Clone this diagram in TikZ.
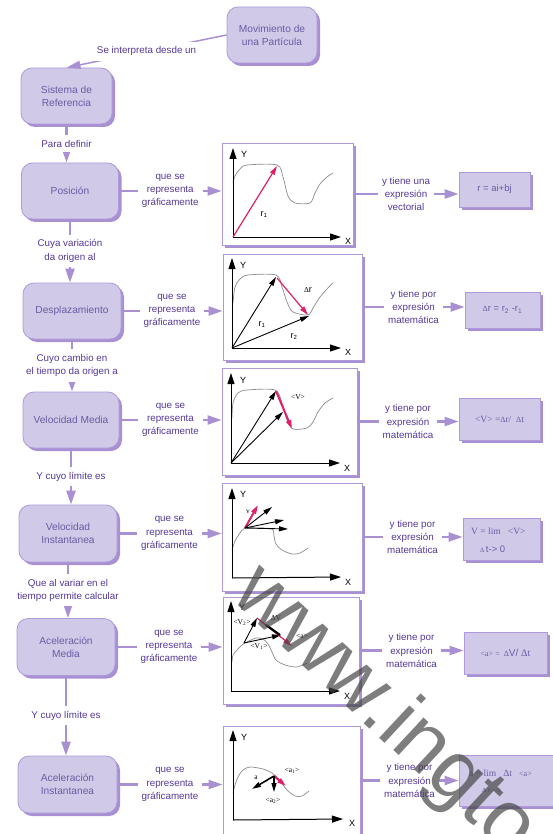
\documentclass[tikz,border=0pt]{standalone}
\usepackage{fontspec}
\setmainfont{Liberation Sans}
\newfontfamily\serf{Liberation Serif}
\usetikzlibrary{arrows.meta,shadows,calc}
\definecolor{bfill}{HTML}{D0CAE8}
\definecolor{bdraw}{HTML}{AE9ADA}
\definecolor{bshad}{HTML}{A890D2}
\definecolor{lcol}{HTML}{A890D2}
\definecolor{ltext}{HTML}{55389A}
\definecolor{btext}{HTML}{6A5CA2}
\definecolor{redv}{HTML}{E0206A}
\definecolor{curvec}{HTML}{8C8C8C}
\tikzset{
  shad/.style={drop shadow={shadow xshift=3pt, shadow yshift=-3pt, fill=bshad, opacity=1}},
  concept/.style={draw=bdraw, fill=bfill, line width=0.8pt, rounded corners=11pt, inner sep=0pt,
    text=btext, font=\fontsize{10.2}{13}\selectfont, align=center, shad},
  gbox/.style={draw=bdraw, fill=white, line width=0.9pt, inner sep=0pt, shad},
  fbox/.style={draw=bdraw, fill=bfill, line width=0.8pt, inner sep=0pt, shad},
  conn/.style={draw=lcol, line width=2.2pt},
  arr/.style={conn, -{Triangle[length=14pt,width=9pt]}},
  lbl/.style={fill=white, text=ltext, font=\fontsize{9.8}{13.3}\selectfont, align=center, inner xsep=4pt, inner ysep=5pt},
  ftext/.style={text=btext, inner sep=0pt, anchor=base west},
  axis/.style={black, line width=1pt, -{Triangle[length=11pt,width=7pt]}},
  vec/.style={black, line width=0.9pt, -{Triangle[length=9pt,width=5pt]}},
  rvec/.style={redv, line width=1.2pt, -{Triangle[length=9pt,width=5pt]}},
  curve/.style={curvec, line width=0.7pt},
  glbl/.style={inner sep=0pt, font=\fontsize{9}{10}\selectfont},
  slbl/.style={inner sep=0pt, font=\serf\fontsize{7.5}{8}\selectfont},
  wmark/.style={inner sep=0pt, anchor=base west, rotate=-43, text=black!72, opacity=0.7, font=\fontsize{84}{84}\selectfont}
}
\begin{document}
\begin{tikzpicture}[x=1pt,y=-1pt]
\useasboundingbox (0,0) rectangle (553,834);
% concept boxes
\node[concept, minimum width=90pt, minimum height=56pt] (mov) at (272,35) {Movimiento de\\una Partícula};
\node[concept, minimum width=91pt, minimum height=56pt] (sis) at (66.5,96) {Sistema de\\Referencia};
\node[concept, minimum width=97pt, minimum height=56pt] (pos) at (70,191) {Posición};
\node[concept, minimum width=98pt, minimum height=56pt] (des) at (72,311) {Desplazamiento};
\node[concept, minimum width=96pt, minimum height=56pt] (vm) at (71,420) {Velocidad Media};
\node[concept, minimum width=98pt, minimum height=57pt] (vi) at (68,533.5) {Velocidad\\Instantanea};
\node[concept, minimum width=98pt, minimum height=57pt] (am) at (66,647) {Aceleración\\Media};
\node[concept, minimum width=99pt, minimum height=57pt] (ai) at (67.5,784.5) {Aceleración\\Instantanea};
% graph boxes
\node[gbox, minimum width=131pt, minimum height=102pt] (g1) at (287.5,194) {};
\node[gbox, minimum width=139pt, minimum height=106pt] (g2) at (292.5,307) {};
\node[gbox, minimum width=135pt, minimum height=107pt] (g3) at (289.5,421.5) {};
\node[gbox, minimum width=140pt, minimum height=108pt] (g4) at (292,537) {};
\node[gbox, minimum width=136pt, minimum height=107pt] (g5) at (291,650.5) {};
\node[gbox, minimum width=137pt, minimum height=124pt] (g6) at (291.5,788) {};
% formula boxes
\node[fbox, minimum width=71pt, minimum height=35pt, text=btext, font=\fontsize{9.5}{11}\selectfont] (f1) at (494.5,189.5) {r = ai+bj};
\node[fbox, minimum width=75pt, minimum height=36pt, text=btext, font=\fontsize{9.5}{11}\selectfont] (f2) at (502.5,310) {{\serf\fontsize{8}{9}\selectfont Δ}r = r\textsubscript{2} -r\textsubscript{1}};
\node[fbox, minimum width=81pt, minimum height=42pt, text=btext, font=\serf\fontsize{9.5}{11}\selectfont] (f3) at (499.5,419) {<V> ={\fontsize{8}{9}\selectfont Δ}r/\ \ {\fontsize{8}{9}\selectfont Δ}t};
\node[fbox, minimum width=77pt, minimum height=42pt] (f4) at (501.5,539) {};
\node[fbox, minimum width=83pt, minimum height=42pt, text=btext, font=\fontsize{10}{11}\selectfont] (f5) at (505.5,653) {{\serf\fontsize{8}{9}\selectfont <a> =\ \ Δ}V/ {\serf Δt}};
\node[fbox, minimum width=106pt, minimum height=51pt] (f6) at (512,780.5) {};
\node[ftext, font=\serf\fontsize{9.5}{11}\selectfont] (f4a) at (471,534) {V = lim\ \ \ <V>};
\node[ftext, font=\fontsize{9.5}{11}\selectfont] (f4b) at (480,552) {{\serf\fontsize{6.5}{7}\selectfont Δ}\,t-> 0};
\node[ftext, font=\serf\fontsize{9.5}{11}\selectfont] (f6a) at (469,776) {a = lim\ \ \ Δt\ \ \ {\fontsize{8}{9}\selectfont <a>}};
\node[ftext, font=\serf\fontsize{6.5}{7}\selectfont] (f6b) at (482,792) {Δ t-> 0};
% top connector
\draw[draw=lcol, line width=1.5pt, -{Triangle[length=14pt,width=8pt]}] (mov.west) -- node[lbl] {Se interpreta desde un} (sis.north);
% vertical connectors
\draw[arr] (sis.south) -- node[lbl] {Para definir} (sis.south |- pos.north);
\draw[arr] (pos.south) -- node[lbl] {Cuya variación\\da origen al} (pos.south |- des.north);
\draw[arr] (des.south) -- node[lbl] {Cuyo cambio en\\el tiempo da origen a} (des.south |- vm.north);
\draw[arr] (vm.south) -- node[lbl] {Y cuyo límite es} (vm.south |- vi.north);
\draw[arr] (vi.south) -- node[lbl] {Que al variar en el\\tiempo permite calcular} (vi.south |- am.north);
\draw[arr] (am.south) -- node[lbl] {Y cuyo límite es} (am.south |- ai.north);
% left horizontal connectors
\foreach \c/\g in {pos/g1,des/g2,vm/g3,vi/g4,am/g5,ai/g6}{
  \draw[arr] (\c.east) -- node[lbl] {que se\\representa\\gráficamente} (\c.east -| \g.west);
}
% right horizontal connectors
\draw[arr] (g1.east) -- node[lbl] {y tiene una\\expresión\\vectorial} (g1.east -| f1.west);
\draw[arr] (g2.east) -- node[lbl] {y tiene por\\expresión\\matemática} (g2.east -| f2.west);
\draw[arr] (g3.east) -- node[lbl] {y tiene por\\expresión\\matemática} (g3.east -| f3.west);
\draw[arr] (g4.east) -- node[lbl] {y tiene por\\expresión\\matemática} (g4.east -| f4.west);
\draw[arr] (g5.east) -- node[lbl] {y tiene por\\expresión\\matemática} (g5.east -| f5.west);
\draw[arr] (g6.east |- f6.west) -- node[lbl] {y tiene por\\expresión\\matemática} (f6.west);
% graph 1
\coordinate (o1) at (233,237);
\draw[curve] plot[smooth, tension=0.5] coordinates {(233,183) (235,176) (240,169) (247,165) (277,165) (283,177) (288,196) (295,203) (310,203) (315,193) (320,184) (327,177) (333,173)};
\draw[axis] (o1) -- (233,148);
\draw[axis] (o1) -- (341,237);
\node[glbl] (y1) at (244,154) {Y};
\node[glbl] (x1) at (348,241) {X};
\draw[rvec] (o1) -- (277,166);
\node[glbl] (r1a) at (264,215) {r\textsubscript{1}};
% graph 2
\coordinate (o2) at (232,348);
\draw[curve] plot[smooth, tension=0.5] coordinates {(233,303) (235,287) (240,279) (248,275) (276,275) (282,287) (287,302) (293,312) (308,315) (313,308) (320,297) (327,289) (333,283)};
\draw[axis] (o2) -- (232,258);
\draw[axis] (o2) -- (341,348);
\node[glbl] (y2) at (243,265) {Y};
\node[glbl] (x2) at (348,352) {X};
\draw[vec] (o2) -- (276,277);
\draw[vec] (o2) -- (309,316);
\draw[rvec] (277,278) -- (308,315);
\node[glbl] (dr2) at (308,290) {{\serf\fontsize{7.5}{8}\selectfont Δ}r};
\node[glbl] (r1b) at (262,325) {r\textsubscript{1}};
\node[glbl] (r2b) at (294,337) {r\textsubscript{2}};
% graph 3
\coordinate (o3) at (231,463);
\draw[curve] plot[smooth, tension=0.5] coordinates {(232,418) (233,403) (238,393) (247,390) (275,390) (282,403) (287,420) (293,429) (307,428) (313,422) (318,412) (325,403) (333,398)};
\draw[axis] (o3) -- (231,373);
\draw[axis] (o3) -- (340,463);
\node[glbl] (y3) at (243,380) {Y};
\node[glbl] (x3) at (347,468) {X};
\draw[vec] (o3) -- (276,391);
\draw[vec] (o3) -- (283,412);
\draw[rvec, line width=2pt] (276,391) -- (292,429);
\node[slbl] (v3) at (298,397) {<V>};
% graph 4
\coordinate (o4) at (232,578);
\draw[curve] plot[smooth, tension=0.5] coordinates {(232,550) (235,541) (240,533) (245,528) (258,528) (272,529) (274,536) (276,544) (282,550) (292,554) (300,553) (308,548)};
\draw[axis] (o4) -- (232,488);
\draw[axis] (o4) -- (341,577);
\node[glbl] (y4) at (243,494) {Y};
\node[glbl] (x4) at (348,582) {X};
\coordinate (p4) at (245,528);
\draw[rvec, line width=2pt] (p4) -- (258,505);
\draw[vec] (p4) -- (272,507);
\draw[vec] (p4) -- (284,520);
\draw[vec] (p4) -- (288,529);
\node[slbl] (v4) at (248,512) {v};
% graph 5
\coordinate (o5) at (231,691);
\draw[curve] plot[smooth, tension=0.5] coordinates {(232,662) (233,655) (237,650) (242,645) (247,642) (256,638) (263,639) (268,644) (272,652) (276,660) (285,665) (297,667) (307,663)};
\draw[axis] (o5) -- (231,601);
\draw[axis] (o5) -- (340,691);
\node[glbl] (y5) at (242,607) {Y};
\node[glbl] (x5) at (347,696) {X};
\coordinate (p5) at (244,643);
\draw[vec] (p5) -- (257,618);
\draw[vec] (p5) -- (281,635);
\draw[rvec] (257,618) -- (292,646);
\draw[black, line width=2.2pt] (266,625) -- (280,635);
\node[slbl] (v25) at (242,623) {<V\textsubscript{2}>};
\node[slbl] (dv5) at (276,618) {ΔV};
\node[slbl] (a5) at (302,636) {<a>};
\node[slbl] (v15) at (259,647) {<V\textsubscript{1}>};
% graph 6
\coordinate (o6) at (233,820);
\draw[curve] plot[smooth, tension=0.5] coordinates {(233,793) (235,785) (238,777) (243,770) (250,767) (263,769) (272,773) (276,776) (280,781) (287,790) (295,796) (302,796) (309,791)};
\draw[axis] (o6) -- (233,730);
\draw[axis] (o6) -- (343,819);
\node[glbl] (y6) at (244,737) {Y};
\node[glbl] (x6) at (352,823) {X};
\coordinate (p6) at (274,776);
\draw[rvec, line width=2pt] (p6) -- (286,786);
\draw[vec, line width=1.6pt] (p6) -- (252,789);
\draw[vec, line width=1.2pt] (p6) -- (274,792);
\node[slbl] (a16) at (292,771) {<a\textsubscript{1}>};
\node[slbl] (a06) at (256,778) {a};
\node[slbl] (a26) at (273,801) {<a\textsubscript{2}>};
% watermark
\node[wmark] (wm) at (229,597) {www.ingto};
\end{tikzpicture}
\end{document}
